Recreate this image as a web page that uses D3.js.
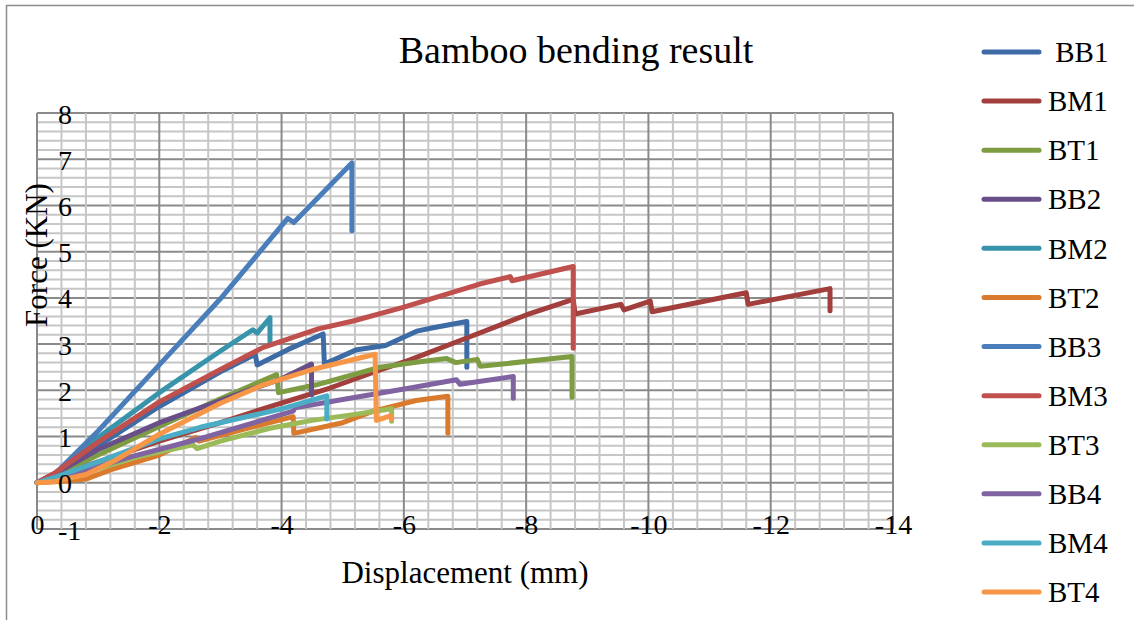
<!DOCTYPE html>
<html>
<head>
<meta charset="utf-8">
<script src="https://cdn.jsdelivr.net/npm/d3@7"></script>
<style>
  html, body { margin: 0; padding: 0; background: #fff; }
  svg text { font-family: "Liberation Serif", "Times New Roman", serif; fill: #000; }
</style>
</head>
<body>
<script>
// series names (legend order) and line colours
const seriesNames = [" BB1", "BM1", "BT1", "BB2", "BM2", "BT2", "BB3", "BM3", "BT3", "BB4", "BM4", "BT4"];
const palette = ["#3C6BA5", "#A23E3B", "#7E9D43", "#684F88", "#3794AB", "#D97A2C",
                 "#4A7EBB", "#C0504D", "#9BBB59", "#8064A2", "#4BACC6", "#F79646"];

// [displacement (mm), force (kN)]
const bb1 = [[0,0],[-0.3,0.2],[-1,0.8],[-2,1.65],[-3,2.4],[-3.57,2.78],[-3.6,2.55],[-4.1,2.88],[-4.68,3.22],[-4.7,2.57],[-5.23,2.88],[-5.45,2.92],[-5.7,2.97],[-6.21,3.28],[-6.5,3.36],[-7.03,3.49],[-7.03,2.5]];
const bm1 = [[0,0],[-0.3,0.15],[-1,0.45],[-2,0.9],[-3,1.3],[-3.81,1.65],[-4.79,2.05],[-5.61,2.44],[-6.1,2.66],[-7.08,3.16],[-8,3.63],[-8.77,3.97],[-8.8,3.65],[-9.55,3.86],[-9.6,3.74],[-10.03,3.93],[-10.06,3.7],[-11.6,4.11],[-11.63,3.86],[-12.97,4.2],[-12.97,3.72]];
const bt1 = [[0,0],[-0.3,0.15],[-1,0.6],[-2,1.22],[-3,1.82],[-3.92,2.34],[-3.95,1.95],[-4.57,2.12],[-5.61,2.5],[-6.26,2.62],[-6.7,2.69],[-6.85,2.6],[-7.2,2.67],[-7.25,2.52],[-8.75,2.73],[-8.75,1.85]];
const bb2 = [[0,0],[-0.3,0.2],[-1,0.72],[-2,1.3],[-3,1.78],[-3.5,2.02],[-4,2.25],[-4.49,2.57],[-4.49,1.9]];
const bm2 = [[0,0],[-0.3,0.2],[-1,0.98],[-2,1.95],[-3,2.85],[-3.53,3.31],[-3.6,3.24],[-3.81,3.57],[-3.81,3.05]];
const bt2 = [[0,0],[-0.3,0.02],[-0.8,0.08],[-1.2,0.28],[-2,0.6],[-2.6,0.98],[-2.65,0.9],[-3.5,1.2],[-4.19,1.43],[-4.2,1.07],[-5,1.3],[-5.5,1.55],[-6.2,1.78],[-6.72,1.87],[-6.72,1.07]];
const bb3 = [[0,0],[-0.3,0.2],[-1,1.12],[-2,2.55],[-3,3.98],[-4.1,5.72],[-4.2,5.63],[-5.15,6.92],[-5.15,5.45]];
const bm3 = [[0,0],[-0.3,0.22],[-1,0.88],[-2,1.75],[-3,2.45],[-3.7,2.93],[-4.6,3.33],[-5.17,3.5],[-6,3.8],[-7.24,4.3],[-7.74,4.46],[-7.77,4.37],[-8.77,4.68],[-8.77,2.91]];
const bt3 = [[0,0],[-0.3,0.1],[-1,0.3],[-1.6,0.55],[-2.55,0.82],[-2.62,0.74],[-3,0.9],[-3.81,1.18],[-4.5,1.35],[-5.2,1.48],[-5.8,1.6],[-5.8,1.33]];
const bb4 = [[0,0],[-0.3,0.12],[-1,0.35],[-1.5,0.55],[-2.6,0.93],[-3.7,1.36],[-4.19,1.55],[-4.22,1.62],[-5,1.8],[-6.1,2.05],[-6.86,2.23],[-6.92,2.13],[-7.79,2.3],[-7.79,1.83]];
const bm4 = [[0,0],[-0.3,0.12],[-1,0.45],[-1.5,0.7],[-2,0.95],[-2.67,1.2],[-3.5,1.45],[-4,1.6],[-4.74,1.88],[-4.74,1.38]];
const bt4 = [[0,0],[-0.3,0.03],[-0.8,0.18],[-1.3,0.5],[-2,1.05],[-3,1.72],[-3.7,2.12],[-4.5,2.45],[-5.53,2.78],[-5.55,1.35],[-5.78,1.45],[-5.8,1.38]];

const seriesData = [bb1, bm1, bt1, bb2, bm2, bt2, bb3, bm3, bt3, bb4, bm4, bt4];

// tick labels
const xTicks = [0, -2, -4, -6, -8, -10, -12, -14];
const yTicks = [-1, 0, 1, 2, 3, 4, 5, 6, 7, 8];

const width = 1134, height = 620;

const svg = d3.select("body").append("svg")
    .attr("width", width)
    .attr("height", height);

// chart outer border (only top/left fall inside the picture)
svg.append("rect")
    .attr("x", 6.5).attr("y", 5.5)
    .attr("width", 1200).attr("height", 700)
    .attr("fill", "none")
    .attr("stroke", "#8c8c8c")
    .attr("stroke-width", 1.5);

const x = d3.scaleLinear().domain([0, -14]).range([37, 893]);
const y = d3.scaleLinear().domain([-1, 8]).range([529, 113]);

// grid: minor every 0.4 mm / 0.2 kN, major every 2 mm / 1 kN
const grid = svg.append("g");
const vLines = d3.range(0, 36).map(i => -i * 0.4);
const hLines = d3.range(0, 46).map(i => -1 + i * 0.2);
const isMajorX = v => Math.abs(v / 2 - Math.round(v / 2)) < 1e-6;
const isMajorY = v => Math.abs(v - Math.round(v)) < 1e-6;

grid.selectAll("line.h")
    .data(hLines.slice().sort((a, b) => isMajorY(a) - isMajorY(b)))
    .join("line")
    .attr("x1", x(0)).attr("x2", x(-14))
    .attr("y1", d => y(d)).attr("y2", d => y(d))
    .attr("stroke", d => isMajorY(d) ? "#8a8a8a" : "#c6c6c6")
    .attr("stroke-width", 2);

grid.selectAll("line.v")
    .data(vLines.slice().sort((a, b) => isMajorX(a) - isMajorX(b)))
    .join("line")
    .attr("y1", y(-1)).attr("y2", y(8))
    .attr("x1", d => x(d)).attr("x2", d => x(d))
    .attr("stroke", d => isMajorX(d) ? "#8a8a8a" : "#c6c6c6")
    .attr("stroke-width", 2);

// series lines
const line = d3.line().x(d => x(d[0])).y(d => y(d[1]));
svg.append("g")
    .selectAll("path")
    .data(seriesData)
    .join("path")
    .attr("d", line)
    .attr("fill", "none")
    .attr("stroke", (d, i) => palette[i])
    .attr("stroke-width", 5)
    .attr("stroke-linejoin", "round")
    .attr("stroke-linecap", "round");

// axes (labels only)
const xAxis = svg.append("g")
    .attr("transform", "translate(0,524)")
    .call(d3.axisBottom(x).tickValues(xTicks).tickSize(0).tickFormat(d => String(d)));
xAxis.select(".domain").remove();
xAxis.selectAll("text")
    .attr("y", 0).attr("dy", "0.35em")
    .style("font-family", "Liberation Serif")
    .style("font-size", "28px");

const yAxis = svg.append("g")
    .attr("transform", "translate(58,0)")
    .call(d3.axisRight(y).tickValues(yTicks).tickSize(0).tickPadding(0).tickFormat(d => String(d)));
yAxis.select(".domain").remove();
yAxis.selectAll("text")
    .attr("dy", "0.36em")
    .style("font-family", "Liberation Serif")
    .style("font-size", "28px");

// titles
svg.append("text")
    .attr("x", 576).attr("y", 63)
    .attr("text-anchor", "middle")
    .style("font-size", "38px")
    .text("Bamboo bending result");

svg.append("text")
    .attr("x", 465).attr("y", 583)
    .attr("text-anchor", "middle")
    .style("font-size", "31px")
    .text("Displacement (mm)");

svg.append("text")
    .attr("transform", "translate(47,255) rotate(-90)")
    .attr("text-anchor", "middle")
    .style("font-size", "31px")
    .text("Force (KN)");

// legend
const ly = d3.scalePoint().domain(seriesNames).range([52, 592]);
const legend = svg.append("g")
    .selectAll("g")
    .data(seriesNames)
    .join("g")
    .attr("transform", d => `translate(0,${ly(d)})`);

legend.append("line")
    .attr("x1", 984).attr("x2", 1039)
    .attr("stroke", (d, i) => palette[i])
    .attr("stroke-width", 5)
    .attr("stroke-linecap", "round");

legend.append("text")
    .attr("x", 1048)
    .attr("dy", "0.35em")
    .style("font-size", "29px")
    .style("white-space", "pre")
    .text(d => d);
</script>
</body>
</html>
